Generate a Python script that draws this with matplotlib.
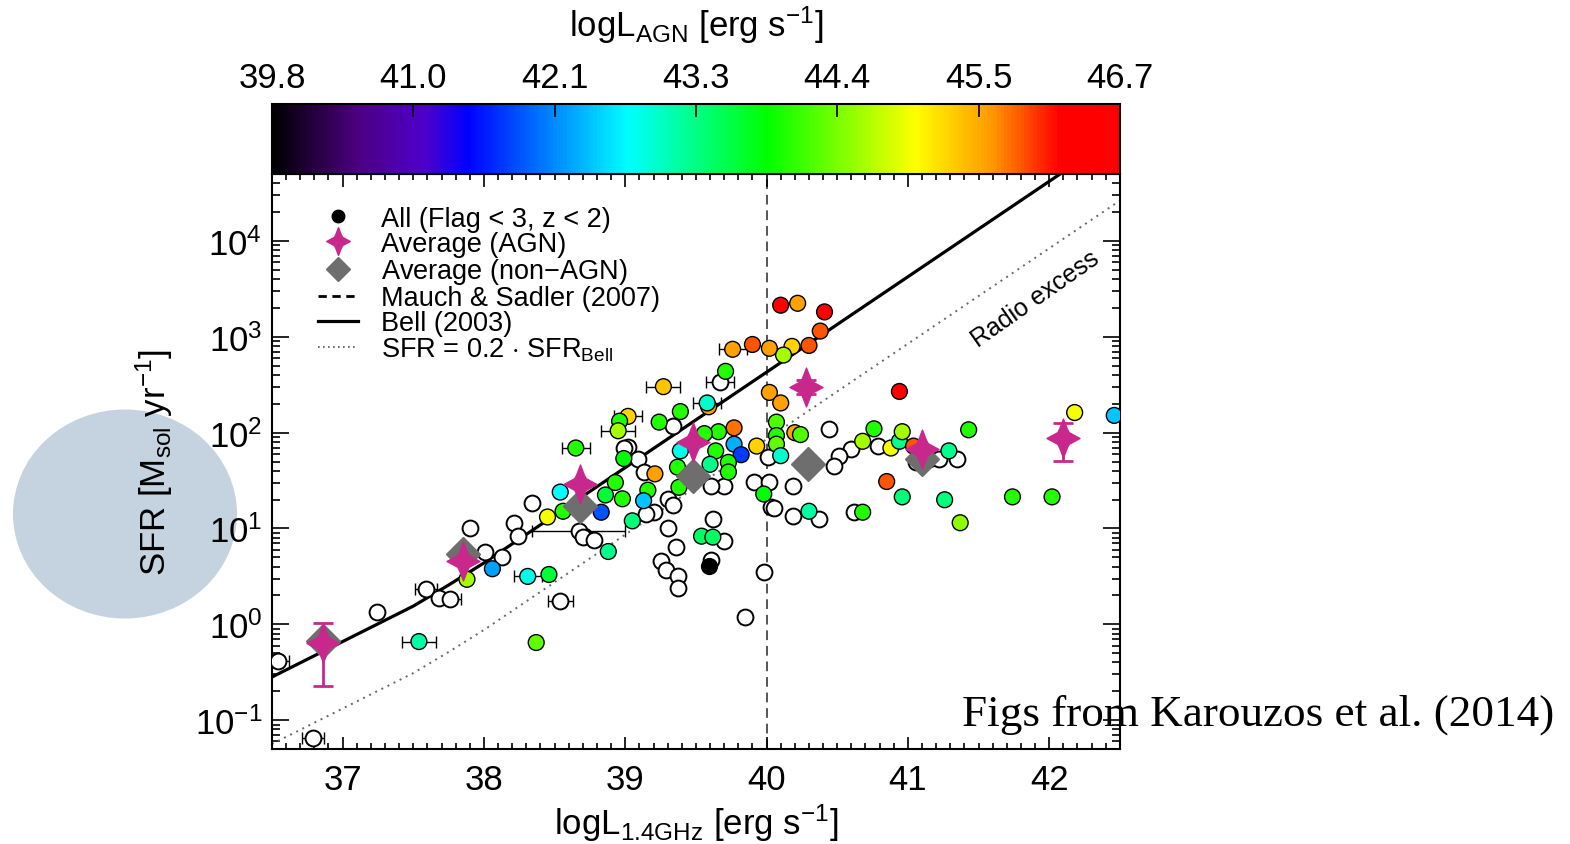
import numpy as np
import matplotlib
matplotlib.use("Agg")
import matplotlib.pyplot as plt
from matplotlib.colors import LinearSegmentedColormap, Normalize
from matplotlib.cm import ScalarMappable
from matplotlib.lines import Line2D
from matplotlib.path import Path
from matplotlib.patches import Ellipse
from matplotlib.ticker import MultipleLocator, LogLocator, NullFormatter

plt.rcParams['font.family'] = ['Liberation Sans', 'DejaVu Sans']
plt.rcParams['mathtext.fontset'] = 'custom'
plt.rcParams['mathtext.rm'] = 'Liberation Sans'
plt.rcParams['mathtext.it'] = 'Liberation Sans:italic'
plt.rcParams['mathtext.bf'] = 'Liberation Sans:bold'

# --- data (log L_1.4GHz, log SFR, log L_AGN) ---
agn_lum = [40.10, 40.22, 40.41, 40.38, 40.30, 40.18, 40.12, 40.02, 39.90, 39.76,
           39.71, 39.27, 40.02, 40.10, 39.59, 39.58, 39.39, 39.02, 38.96, 38.95,
           39.24, 40.07, 40.20, 40.24, 40.76, 40.68, 39.77, 39.66, 39.56, 38.65,
           38.99, 39.39, 39.37, 39.64, 39.77, 39.82, 39.93, 40.07, 40.07, 40.10,
           39.73, 39.73, 39.60, 39.21, 39.16, 39.13, 38.83, 38.98, 38.86, 39.05,
           39.98, 40.30, 40.68, 39.54, 39.62, 38.88, 38.54, 38.45, 38.56, 38.93,
           37.88, 38.06, 38.31, 38.46, 37.54, 38.37, 40.94, 42.18, 42.46, 40.88,
           40.94, 40.96, 41.04, 41.29, 41.43, 40.85, 40.96, 41.26, 41.37, 41.74,
           42.02, 39.38]
agn_sfr = [3.33, 3.35, 3.26, 3.06, 2.91, 2.90, 2.81, 2.88, 2.92, 2.87,
           2.64, 2.48, 2.42, 2.31, 2.27, 2.31, 2.22, 2.17, 2.12, 2.02,
           2.11, 2.11, 2.00, 1.98, 2.04, 1.91, 2.05, 2.01, 1.99, 1.84,
           1.73, 1.81, 1.64, 1.81, 1.88, 1.77, 1.86, 1.97, 1.88, 1.76,
           1.69, 1.59, 1.67, 1.57, 1.40, 1.29, 1.17, 1.31, 1.35, 1.08,
           1.36, 1.18, 1.17, 0.92, 0.91, 0.76, 1.38, 1.12, 1.18, 1.48,
           0.47, 0.58, 0.50, 0.52, -0.18, -0.19, 2.43, 2.21, 2.18, 1.84,
           1.91, 2.01, 1.86, 1.81, 2.03, 1.49, 1.33, 1.30, 1.06, 1.33,
           1.33, 1.43]
agn_lagn = [46.3, 45.6, 46.3, 45.9, 45.9, 45.3, 44.6, 45.6, 45.9, 45.6,
            44.0, 45.4, 45.6, 45.6, 45.6, 42.9, 44.0, 45.3, 44.0, 44.6,
            44.0, 44.2, 45.6, 44.2, 44.0, 44.6, 45.8, 44.0, 44.0, 44.0,
            43.8, 42.8, 44.0, 44.0, 42.3, 41.7, 45.3, 44.0, 44.3, 42.9,
            44.0, 44.0, 43.2, 45.6, 44.0, 42.4, 41.8, 44.0, 43.6, 43.3,
            43.8, 43.1, 44.0, 43.4, 43.4, 43.2, 42.7, 45.0, 44.0, 44.0,
            44.6, 42.2, 42.8, 43.6, 43.1, 44.3, 46.3, 45.0, 42.4, 45.0,
            43.2, 44.6, 45.9, 43.2, 44.0, 45.9, 43.3, 43.3, 44.5, 44.0,
            44.0, 44.0]
agn_xerr = [0, 0, 0, 0, 0, 0, 0, 0, 0, 0.1,
            0, 0.12, 0, 0, 0, 0.1, 0, 0.1, 0, 0.12,
            0, 0, 0, 0, 0, 0, 0, 0, 0, 0.1,
            0, 0, 0, 0, 0, 0, 0, 0, 0, 0,
            0, 0, 0, 0, 0, 0, 0, 0, 0, 0,
            0, 0, 0, 0, 0, 0, 0, 0, 0, 0,
            0, 0, 0.1, 0, 0.12, 0, 0, 0, 0, 0,
            0, 0, 0, 0, 0, 0, 0, 0, 0, 0,
            0, 0]

# sources without an AGN luminosity (open symbols)
open_lum = [39.67, 39.34, 40.44, 40.60, 40.51, 40.48, 40.79, 39.02, 40.01, 39.91,
            40.02, 40.03, 40.19, 40.19, 40.37, 40.62, 39.62, 39.70, 39.30, 39.36,
            38.71, 36.54, 36.79, 37.24, 37.59, 37.68, 37.76, 37.90, 38.01, 38.13,
            38.54, 38.21, 38.24, 38.34, 38.67, 38.70, 39.25, 39.29, 39.37, 39.37,
            39.20, 39.61, 39.98, 39.85, 40.05, 39.70, 39.61, 39.30, 39.34, 39.15,
            41.06, 41.15, 41.22, 41.35, 39.09, 39.13, 38.99, 38.78]
open_sfr = [2.53, 2.07, 2.04, 1.83, 1.76, 1.65, 1.86, 1.85, 1.75, 1.49,
            1.49, 1.22, 1.44, 1.13, 1.10, 1.17, 1.10, 0.87, 1.01, 0.81,
            0.92, -0.38, -1.19, 0.13, 0.37, 0.28, 0.26, 1.01, 0.75, 0.70,
            0.24, 1.06, 0.92, 1.27, 0.97, 0.91, 0.66, 0.57, 0.50, 0.38,
            1.17, 0.67, 0.55, 0.08, 1.21, 1.44, 1.44, 1.31, 1.25, 1.15,
            1.69, 1.73, 1.73, 1.73, 1.73, 1.59, 1.84, 0.88]
open_xerr = [0.1, 0, 0, 0, 0, 0, 0, 0, 0, 0,
             0, 0, 0, 0, 0, 0, 0, 0, 0, 0,
             0, 0.08, 0.08, 0, 0.08, 0, 0.08, 0, 0, 0,
             0.09, 0, 0, 0, 0.33, 0, 0, 0, 0, 0,
             0, 0, 0, 0, 0, 0, 0, 0, 0, 0,
             0, 0, 0, 0, 0, 0, 0, 0]

black_lum = [39.59]
black_sfr = [0.61]

# binned averages
avg_agn_lum = [36.86, 37.85, 38.68, 39.48, 40.28, 41.10, 42.10]
avg_agn_sfr = [-0.19, 0.66, 1.46, 1.90, 2.48, 1.83, 1.945]
avg_agn_lo = [-0.64, 0.66, 1.46, 1.90, 2.40, 1.83, 1.70]
avg_agn_hi = [0.017, 0.66, 1.46, 1.90, 2.55, 1.83, 2.10]
avg_non_lum = [36.86, 37.85, 38.68, 39.48, 40.29, 41.10]
avg_non_sfr = [-0.17, 0.73, 1.23, 1.55, 1.67, 1.73]

# Bell (2003) relation
bell_lum = [36.5, 37.0, 37.5, 37.75, 38.0, 42.5]
bell_sfr = [-0.55, -0.18, 0.19, 0.41, 0.64, 5.12]
ms07_lum = 40.0

cbar_ticks = [39.8, 40.95, 42.1, 43.25, 44.4, 45.55, 46.7]
cbar_labels = ['39.8', '41.0', '42.1', '43.3', '44.4', '45.5', '46.7']

magenta = '#C8288C'
grey = '#6E6E6E'

cmap = LinearSegmentedColormap.from_list('idl_rainbow', [
    (0.00, (0.0, 0.0, 0.0)), (0.10, (0.30, 0.0, 0.50)), (0.18, (0.30, 0.0, 0.80)),
    (0.23, (0.0, 0.0, 1.0)), (0.42, (0.0, 1.0, 1.0)), (0.585, (0.0, 1.0, 0.0)),
    (0.76, (1.0, 1.0, 0.0)), (0.85, (1.0, 0.6, 0.0)), (0.93, (1.0, 0.0, 0.0)),
    (1.00, (1.0, 0.0, 0.0))])
norm = Normalize(vmin=39.8, vmax=46.7)

# 4-pointed star marker (slightly taller than wide, concave sides)
ang = np.deg2rad(np.arange(17) * 22.5 + 90)
rad = np.array([1.0, 0.52, 0.42, 0.52] * 4 + [1.0])
sx = np.array([0.85 if k % 8 == 4 else 1.0 for k in range(17)])
star = Path(np.column_stack([sx * rad * np.cos(ang), rad * np.sin(ang)]), closed=True)

fig = plt.figure(figsize=(15.7, 8.45), dpi=100)
ax = fig.add_axes([0.1732, 0.1124, 0.5401, 0.6805])
cax = fig.add_axes([0.1732, 0.7929, 0.5401, 0.0828])

bell = 10 ** np.array(bell_sfr)
ax.plot(bell_lum, bell, color='black', lw=2.3, zorder=2)
ax.plot(bell_lum, 0.2 * bell, color='#666666', ls=(0, (1, 2.5)), lw=1.4, zorder=2)
ax.axvline(ms07_lum, color='#555555', ls=(0, (5, 3)), lw=1.4, zorder=1)

# error bars first
ox = np.array(open_lum); oy = 10 ** np.array(open_sfr); oe = np.array(open_xerr)
m = oe > 0
ax.errorbar(ox[m], oy[m], xerr=oe[m], fmt='none', ecolor='black', elinewidth=1.0,
            capsize=4, capthick=1.0, zorder=3)
ax_ = np.array(agn_lum); ay = 10 ** np.array(agn_sfr); ae = np.array(agn_xerr)
m = ae > 0
ax.errorbar(ax_[m], ay[m], xerr=ae[m], fmt='none', ecolor='black', elinewidth=1.0,
            capsize=4, capthick=1.0, zorder=3)

ax.scatter(ox, oy, s=130, facecolor='white', edgecolor='black', linewidths=1.4, zorder=4)
ax.scatter(ax_, ay, s=130, c=agn_lagn, cmap=cmap, norm=norm, edgecolor='black',
           linewidths=1.0, zorder=5)
ax.scatter(black_lum, 10 ** np.array(black_sfr), s=130, color='black', zorder=5)

# averages
ax.plot(avg_non_lum, 10 ** np.array(avg_non_sfr), ls='none', marker='D', markersize=17,
        color=grey, zorder=6)
aa = 10 ** np.array(avg_agn_sfr)
ax.errorbar(avg_agn_lum, aa, yerr=[aa - 10 ** np.array(avg_agn_lo), 10 ** np.array(avg_agn_hi) - aa],
            fmt='none', ecolor=magenta, elinewidth=2, capsize=7, capthick=2, zorder=6)
ax.plot(avg_agn_lum, aa, ls='none', marker=star, markersize=28, color=magenta, zorder=7)

ax.text(41.90, 2500, 'Radio excess', rotation=35, fontsize=18, ha='center', va='center',
        rotation_mode='anchor')

ax.set_xlim(36.5, 42.5)
ax.set_yscale('log')
ax.set_ylim(0.05, 5e4)
ax.xaxis.set_major_locator(MultipleLocator(1))
ax.xaxis.set_minor_locator(MultipleLocator(0.1))
ax.yaxis.set_major_locator(LogLocator(base=10, numticks=20))
ax.yaxis.set_minor_locator(LogLocator(base=10, subs=np.arange(2, 10), numticks=20))
ax.yaxis.set_minor_formatter(NullFormatter())
ax.tick_params(which='both', direction='in', top=True, right=True, width=1.2, labelsize=25)
ax.tick_params(axis='x', which='major', length=9, pad=10)
ax.tick_params(axis='x', which='minor', length=4)
ax.tick_params(axis='y', which='major', length=12, pad=7)
ax.tick_params(axis='y', which='minor', length=6)
for s in ax.spines.values():
    s.set_linewidth(1.5)

ax.set_xlabel(r'logL$_{\rm 1.4GHz}$ [erg s$^{-1}$]', fontsize=25)
ax.xaxis.set_label_coords(0.5, -0.092)
ax.set_ylabel(r'SFR [M$_{\rm sol}$ yr$^{-1}$]', fontsize=25)
ax.yaxis.set_label_coords(-0.114, 0.5)

handles = [
    Line2D([], [], ls='none', marker='o', color='black', markersize=9),
    Line2D([], [], ls='none', marker=star, color=magenta, markersize=20),
    Line2D([], [], ls='none', marker='D', color=grey, markersize=12),
    Line2D([], [], color='black', ls=(0, (3, 2)), lw=2),
    Line2D([], [], color='black', lw=2.3),
    Line2D([], [], color='#555555', ls=(0, (1, 2)), lw=1.2),
]
labels = ['All (Flag < 3, z < 2)', 'Average (AGN)', 'Average (non$-$AGN)',
          'Mauch & Sadler (2007)', 'Bell (2003)', r'SFR = 0.2 $\cdot$ SFR$_{\rm Bell}$']
ax.legend(handles, labels, loc='upper left', bbox_to_anchor=(0.054, 0.945), frameon=False,
          fontsize=19.5, handlelength=1.5, handletextpad=0.85, labelspacing=-0.03,
          borderpad=0, borderaxespad=0)

# colour bar
sm = ScalarMappable(norm=norm, cmap=cmap)
cb = fig.colorbar(sm, cax=cax, orientation='horizontal', ticks=cbar_ticks)
cb.set_ticklabels(cbar_labels)
cax.xaxis.set_ticks_position('top')
cax.xaxis.set_label_position('top')
cax.tick_params(direction='in', length=9, width=1.2, labelsize=25, pad=7)
cb.outline.set_linewidth(1.5)
cax.set_xlabel(r'logL$_{\rm AGN}$ [erg s$^{-1}$]', fontsize=25)
cax.xaxis.set_label_coords(0.5, 1.98)

# slide decorations
fig.patches.append(Ellipse((125 / 1570, 1 - 515 / 845), 224 / 1570, 209 / 845,
                           transform=fig.transFigure, facecolor='#C4D3DF',
                           edgecolor='none', zorder=-1))
fig.text(0.6127, 0.141, 'Figs from Karouzos et al. (2014)', family='Liberation Serif',
         fontsize=32.5, ha='left', va='baseline')

fig.savefig('out.png', dpi=100)
